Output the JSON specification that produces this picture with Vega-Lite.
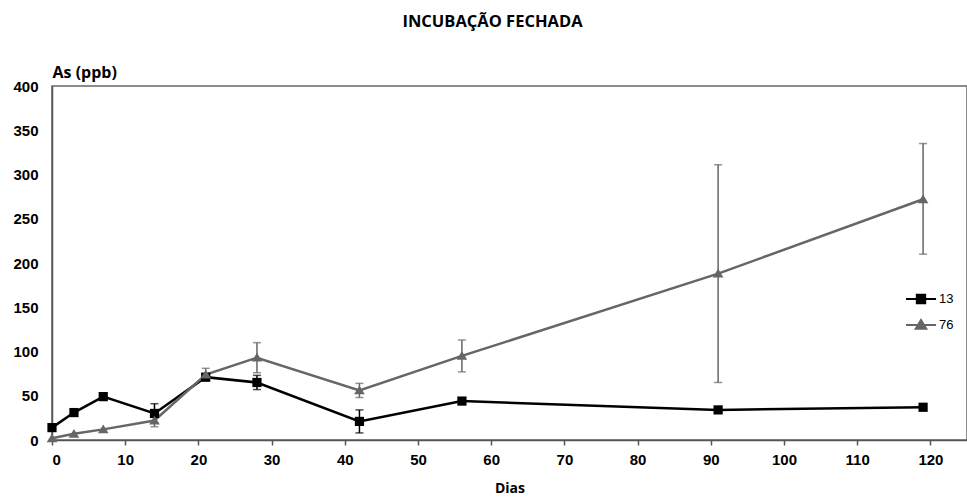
{
  "$schema": "https://vega.github.io/schema/vega-lite/v6.json",
  "autosize": "none",
  "width": 915,
  "height": 354,
  "padding": {"left": 52, "top": 86, "right": 0, "bottom": 57},
  "background": "white",
  "view": {"stroke": "#666666", "strokeWidth": 1.5},
  "title": {
    "text": "INCUBAÇÃO FECHADA",
    "font": "Open Sans",
    "fontSize": 16.5,
    "fontWeight": "bold",
    "color": "#000000",
    "anchor": "middle",
    "dx": -17,
    "offset": 34
  },
  "data": {
    "values": [
      {"serie": "13", "dia": 0, "as": 14},
      {"serie": "13", "dia": 3, "as": 31},
      {"serie": "13", "dia": 7, "as": 49},
      {"serie": "13", "dia": 14, "as": 30, "lo": 19, "hi": 41},
      {"serie": "13", "dia": 21, "as": 71},
      {"serie": "13", "dia": 28, "as": 65, "lo": 57, "hi": 73},
      {"serie": "13", "dia": 42, "as": 21, "lo": 8, "hi": 34},
      {"serie": "13", "dia": 56, "as": 44},
      {"serie": "13", "dia": 91, "as": 34},
      {"serie": "13", "dia": 119, "as": 37},
      {"serie": "76", "dia": 0, "as": 2},
      {"serie": "76", "dia": 3, "as": 7},
      {"serie": "76", "dia": 7, "as": 12},
      {"serie": "76", "dia": 14, "as": 22, "lo": 15, "hi": 29},
      {"serie": "76", "dia": 21, "as": 74, "lo": 67, "hi": 81},
      {"serie": "76", "dia": 28, "as": 93, "lo": 76, "hi": 110},
      {"serie": "76", "dia": 42, "as": 56, "lo": 48, "hi": 64},
      {"serie": "76", "dia": 56, "as": 95, "lo": 77, "hi": 113},
      {"serie": "76", "dia": 91, "as": 188, "lo": 65, "hi": 311},
      {"serie": "76", "dia": 119, "as": 272, "lo": 210, "hi": 335}
    ]
  },
  "encoding": {
    "x": {
      "field": "dia", "type": "quantitative",
      "scale": {"domain": [0, 125], "nice": false, "zero": true},
      "axis": {
        "title": "Dias",
        "values": [0, 10, 20, 30, 40, 50, 60, 70, 80, 90, 100, 110, 120],
        "grid": false,
        "domainColor": "#555555", "domainWidth": 1.5,
        "tickColor": "#555555", "tickSize": 5, "tickWidth": 1.5,
        "labelFont": "Liberation Sans", "labelFontSize": 15, "labelFontWeight": "bold", "labelColor": "#000000",
        "labelPadding": 7,
        "titleFont": "Open Sans", "titleFontSize": 14, "titleFontWeight": "bold", "titleColor": "#000000",
        "titlePadding": 14
      }
    },
    "y": {
      "field": "as", "type": "quantitative",
      "scale": {"domain": [0, 400], "nice": false},
      "axis": {
        "title": "As (ppb)",
        "values": [0, 50, 100, 150, 200, 250, 300, 350, 400],
        "grid": false,
        "ticks": false, "tickSize": 0,
        "domainColor": "#555555", "domainWidth": 1.5,
        "labelFont": "Liberation Sans", "labelFontSize": 15, "labelFontWeight": "bold", "labelColor": "#000000",
        "labelPadding": 14,
        "titleFont": "Open Sans", "titleFontSize": 16, "titleFontWeight": "bold", "titleColor": "#000000",
        "titleAngle": 0, "titleAlign": "left", "titleBaseline": "alphabetic",
        "titleX": 0, "titleY": -9
      }
    },
    "color": {
      "field": "serie", "type": "nominal",
      "scale": {"domain": ["13", "76"], "range": ["#000000", "#666666"]},
      "legend": {
        "title": null,
        "orient": "none",
        "legendX": 853,
        "legendY": 197,
        "symbolSize": 900,
        "rowPadding": 1,
        "labelOffset": 2,
        "labelFont": "Liberation Sans",
        "labelFontSize": 13,
        "labelColor": "#000000",
        "encode": {
          "symbols": {
            "update": {
              "shape": [
                {"test": "datum.value === '13'", "value": "M-1,0H1M-0.28,-0.28H0.28V0.28H-0.28Z"},
                {"value": "M-1,0H1M0,-0.33L0.35,0.25H-0.35Z"}
              ],
              "fill": [
                {"test": "datum.value === '13'", "value": "#000000"},
                {"value": "#666666"}
              ],
              "stroke": [
                {"test": "datum.value === '13'", "value": "#000000"},
                {"value": "#666666"}
              ],
              "strokeWidth": {"value": 2},
              "opacity": {"value": 1},
              "fillOpacity": {"value": 1},
              "strokeOpacity": {"value": 1}
            }
          }
        }
      }
    }
  },
  "layer": [
    {
      "transform": [{"filter": "isValid(datum.hi)"}],
      "mark": {"type": "rule", "strokeWidth": 1.5},
      "encoding": {
        "y": {"field": "lo", "type": "quantitative"},
        "y2": {"field": "hi"}
      }
    },
    {
      "transform": [{"filter": "isValid(datum.hi)"}],
      "mark": {"type": "tick", "orient": "horizontal", "size": 8, "thickness": 1.5},
      "encoding": {
        "y": {"field": "hi", "type": "quantitative"}
      }
    },
    {
      "transform": [{"filter": "isValid(datum.hi)"}],
      "mark": {"type": "tick", "orient": "horizontal", "size": 8, "thickness": 1.5},
      "encoding": {
        "y": {"field": "lo", "type": "quantitative"}
      }
    },
    {
      "mark": {"type": "line", "strokeWidth": 2.5},
      "encoding": {
        "detail": {"field": "serie"}
      }
    },
    {
      "transform": [{"filter": "datum.serie === '13'"}],
      "mark": {"type": "point", "filled": true, "opacity": 1, "shape": "square", "size": 85},
      "encoding": {}
    },
    {
      "transform": [{"filter": "datum.serie === '76'"}],
      "mark": {"type": "point", "filled": true, "opacity": 1, "shape": "M0,-1.05L1.15,0.85H-1.15Z", "size": 85},
      "encoding": {}
    }
  ]
}
